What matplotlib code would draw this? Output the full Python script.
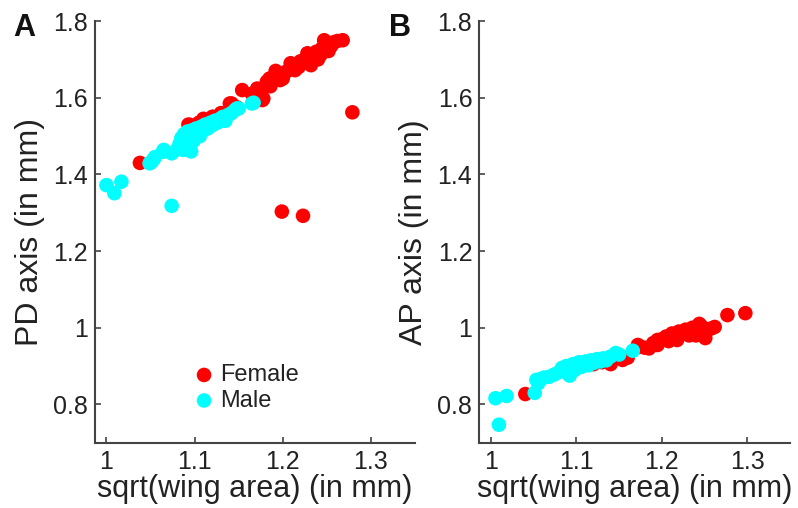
import matplotlib
matplotlib.use("Agg")
import matplotlib.pyplot as plt

plt.rcParams["font.family"] = ["Liberation Sans", "DejaVu Sans"]

# Panel A: sqrt(wing area) vs PD axis
female_area_a = [1.038, 1.093, 1.095, 1.105, 1.110, 1.120, 1.121, 1.130, 1.140, 1.142,
                 1.148, 1.154, 1.165, 1.171, 1.175, 1.177, 1.178, 1.182, 1.185, 1.186,
                 1.190, 1.192, 1.195, 1.197, 1.200, 1.204, 1.209, 1.212, 1.214, 1.218,
                 1.220, 1.225, 1.228, 1.230, 1.232, 1.235, 1.238, 1.240, 1.243, 1.245,
                 1.247, 1.250, 1.252, 1.255, 1.258, 1.262, 1.268, 1.199, 1.223, 1.279]
female_pd = [1.430, 1.530, 1.529, 1.535, 1.545, 1.550, 1.550, 1.560, 1.585, 1.585,
             1.575, 1.620, 1.610, 1.624, 1.610, 1.594, 1.598, 1.642, 1.650, 1.630,
             1.655, 1.670, 1.660, 1.646, 1.650, 1.668, 1.690, 1.676, 1.672, 1.680,
             1.695, 1.700, 1.716, 1.690, 1.685, 1.705, 1.720, 1.700, 1.712, 1.730,
             1.750, 1.740, 1.722, 1.735, 1.745, 1.748, 1.750, 1.303, 1.292, 1.562]

male_area_a = [1.000, 1.009, 1.017, 1.074, 1.049, 1.051, 1.053, 1.055, 1.064, 1.065,
               1.074, 1.080, 1.083, 1.085, 1.087, 1.087, 1.088, 1.090, 1.090, 1.092,
               1.094, 1.095, 1.096, 1.097, 1.099, 1.100, 1.102, 1.104, 1.106, 1.108,
               1.110, 1.112, 1.115, 1.118, 1.120, 1.123, 1.126, 1.129, 1.132, 1.135,
               1.138, 1.142, 1.146, 1.148, 1.150, 1.165, 1.167]
male_pd = [1.372, 1.351, 1.381, 1.318, 1.429, 1.432, 1.438, 1.445, 1.459, 1.464,
           1.455, 1.465, 1.480, 1.495, 1.464, 1.470, 1.505, 1.490, 1.470, 1.512,
           1.478, 1.500, 1.460, 1.515, 1.488, 1.505, 1.520, 1.510, 1.500, 1.525,
           1.515, 1.530, 1.520, 1.535, 1.528, 1.540, 1.535, 1.545, 1.550, 1.540,
           1.555, 1.560, 1.568, 1.572, 1.572, 1.585, 1.587]

# Panel B: sqrt(wing area) vs AP axis
female_area_b = [1.040, 1.120, 1.130, 1.140, 1.154, 1.160, 1.172, 1.174, 1.180, 1.185,
                 1.190, 1.195, 1.195, 1.200, 1.205, 1.208, 1.212, 1.216, 1.218, 1.220,
                 1.224, 1.228, 1.232, 1.236, 1.240, 1.240, 1.244, 1.247, 1.251, 1.253,
                 1.258, 1.262, 1.277, 1.298]
female_ap = [0.827, 0.905, 0.910, 0.905, 0.916, 0.922, 0.955, 0.951, 0.948, 0.946,
             0.960, 0.955, 0.968, 0.970, 0.977, 0.965, 0.985, 0.975, 0.968, 0.990,
             0.985, 0.995, 0.980, 1.000, 0.992, 0.980, 1.010, 1.003, 0.973, 0.995,
             0.998, 1.002, 1.033, 1.038]

male_area_b = [1.005, 1.018, 1.009, 1.051, 1.053, 1.055, 1.058, 1.062, 1.068, 1.074,
               1.080, 1.083, 1.085, 1.088, 1.090, 1.092, 1.093, 1.096, 1.098, 1.100,
               1.103, 1.106, 1.108, 1.111, 1.114, 1.117, 1.120, 1.124, 1.128, 1.131,
               1.135, 1.140, 1.146, 1.150, 1.166]
male_ap = [0.816, 0.822, 0.747, 0.830, 0.864, 0.855, 0.866, 0.870, 0.872, 0.878,
           0.885, 0.895, 0.890, 0.900, 0.880, 0.875, 0.895, 0.905, 0.890, 0.900,
           0.910, 0.898, 0.905, 0.912, 0.902, 0.915, 0.908, 0.918, 0.912, 0.920,
           0.915, 0.925, 0.934, 0.930, 0.940]

x_ticks = [1.0, 1.1, 1.2, 1.3]
x_tick_labels = ["1", "1.1", "1.2", "1.3"]
y_ticks = [0.8, 1.0, 1.2, 1.4, 1.6, 1.8]
y_tick_labels = ["0.8", "1", "1.2", "1.4", "1.6", "1.8"]

FEMALE_COLOR = "#ff0000"
MALE_COLOR = "#00ffff"
AXIS_COLOR = "#444444"
TEXT_COLOR = "#222222"
MARKER_SIZE = 110


def style_axes(ax, xlim, ylabel):
    ax.set_xlim(*xlim)
    ax.set_ylim(0.7, 1.8)
    ax.set_xticks(x_ticks)
    ax.set_xticklabels(x_tick_labels)
    ax.set_yticks(y_ticks)
    ax.set_yticklabels(y_tick_labels)
    for side in ("top", "right"):
        ax.spines[side].set_visible(False)
    for side in ("left", "bottom"):
        ax.spines[side].set_color(AXIS_COLOR)
        ax.spines[side].set_linewidth(1.5)
    ax.tick_params(direction="in", length=4, width=1.2, color=AXIS_COLOR,
                   labelsize=18, labelcolor=TEXT_COLOR, pad=5)
    ax.set_xlabel("sqrt(wing area) (in mm)", fontsize=22, color=TEXT_COLOR, labelpad=0)
    ax.set_ylabel(ylabel, fontsize=23, color=TEXT_COLOR, labelpad=6)


fig = plt.figure(figsize=(7.98, 5.08), dpi=100)
ax_a = fig.add_axes([0.119, 0.1285, 0.401, 0.830])
ax_b = fig.add_axes([0.6006, 0.1285, 0.389, 0.830])

ax_a.scatter(female_area_a, female_pd, s=MARKER_SIZE, color=FEMALE_COLOR, edgecolors="none",
             label="Female", clip_on=False)
ax_a.scatter(male_area_a, male_pd, s=MARKER_SIZE, color=MALE_COLOR, edgecolors="none",
             label="Male", clip_on=False)
style_axes(ax_a, (0.987, 1.35), "PD axis (in mm)")
ax_a.legend(loc="center", bbox_to_anchor=(0.475, 0.13), frameon=False, fontsize=17,
            handlelength=0.8, handletextpad=0.3, labelspacing=0.15,
            labelcolor=TEXT_COLOR, borderpad=0)

ax_b.scatter(female_area_b, female_ap, s=MARKER_SIZE, color=FEMALE_COLOR, edgecolors="none",
             clip_on=False)
ax_b.scatter(male_area_b, male_ap, s=MARKER_SIZE, color=MALE_COLOR, edgecolors="none",
             clip_on=False)
style_axes(ax_b, (0.986, 1.35), "AP axis (in mm)")

fig.text(0.016, 0.975, "A", fontsize=22, fontweight="bold", va="top", color="#111111")
fig.text(0.487, 0.975, "B", fontsize=22, fontweight="bold", va="top", color="#111111")

fig.savefig("out.png", dpi=100)
plt.close(fig)
